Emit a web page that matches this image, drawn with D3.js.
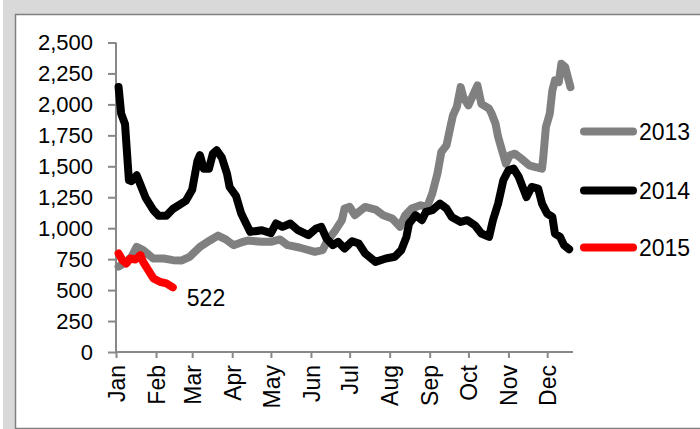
<!DOCTYPE html>
<html>
<head>
<meta charset="utf-8">
<script src="https://cdn.jsdelivr.net/npm/d3@7"></script>
<style>
  html, body { margin: 0; padding: 0; background: #fff; }
  svg { display: block; font-family: "Liberation Sans", Arial, sans-serif; }
</style>
</head>
<body>
<svg id="chart" width="700" height="429"></svg>
<script>
// Weekly-ish readings by day of year (0 = Jan 1)
const days2013 = [2, 7, 12, 16, 21, 29, 37, 44, 51, 57, 65, 73, 79, 85, 91, 97, 102, 113, 120, 127, 133, 142, 154, 160, 164, 170, 175, 177, 181, 185, 193, 201, 207, 214, 220, 224, 229, 236, 241, 245, 249, 252, 256, 259, 261, 264, 267, 269, 273, 277, 280, 283, 289, 291, 294, 296, 299, 302, 305, 309, 314, 320, 325, 330, 331, 333, 336, 338, 340, 343, 345, 348, 350, 352];
const values2013 = [690, 720, 769, 849, 823, 755, 755, 742, 740, 769, 849, 903, 940, 910, 863, 885, 900, 890, 890, 909, 863, 844, 809, 823, 903, 984, 1065, 1159, 1172, 1105, 1172, 1151, 1105, 1078, 1011, 1105, 1159, 1185, 1172, 1280, 1441, 1615, 1669, 1817, 1911, 1980, 2140, 2059, 1992, 2086, 2153, 2005, 1965, 1925, 1844, 1737, 1629, 1522, 1589, 1602, 1562, 1508, 1494, 1481, 1575, 1817, 1925, 2113, 2194, 2180, 2328, 2301, 2220, 2140];

const days2014 = [2, 4, 7, 10, 12, 16, 19, 23, 29, 33, 39, 44, 54, 59, 63, 65, 68, 72, 75, 78, 82, 86, 88, 93, 97, 104, 113, 120, 124, 129, 135, 141, 149, 155, 159, 163, 168, 172, 177, 183, 188, 193, 201, 209, 216, 221, 225, 227, 232, 237, 240, 245, 251, 256, 260, 267, 272, 278, 283, 289, 292, 296, 300, 304, 308, 312, 316, 318, 322, 327, 330, 334, 338, 340, 344, 347, 351];
const values2014 = [2140, 1925, 1840, 1387, 1380, 1427, 1350, 1245, 1145, 1100, 1100, 1155, 1220, 1310, 1540, 1590, 1480, 1480, 1602, 1630, 1570, 1440, 1333, 1260, 1118, 970, 984, 960, 1038, 1011, 1038, 984, 944, 998, 1011, 917, 863, 890, 836, 895, 876, 796, 728, 755, 769, 823, 930, 1038, 1105, 1065, 1131, 1145, 1199, 1159, 1091, 1051, 1065, 1024, 957, 930, 1065, 1199, 1387, 1468, 1481, 1414, 1306, 1252, 1333, 1320, 1199, 1118, 1091, 957, 930, 863, 830];

const days2015 = [2, 5, 8, 11, 15, 19, 21, 25, 29, 34, 39, 44];
const values2015 = [796, 742, 715, 755, 747, 782, 728, 661, 594, 567, 554, 522];

const seriesNames = ["2013", "2014", "2015"];
const seriesColors = ["#808080", "#000000", "#ff0000"];
const monthLabels = ["Jan", "Feb", "Mar", "Apr", "May", "Jun", "Jul", "Aug", "Sep", "Oct", "Nov", "Dec"];
const yTicks = [0, 250, 500, 750, 1000, 1250, 1500, 1750, 2000, 2250, 2500];
const lastLabel = "522";

const svg = d3.select("#chart");
const W = 700, H = 429;

// frame: grey surround with a white bordered panel
svg.append("rect").attr("x", 3).attr("y", 0).attr("width", W - 3).attr("height", H).attr("fill", "#d9d9d9");
svg.append("rect").attr("x", 15.5).attr("y", 14.5).attr("width", W).attr("height", 414)
  .attr("fill", "#fff").attr("stroke", "#7f7f7f").attr("stroke-width", 1.5);

const yearStart = new Date(2014, 0, 1);
const toDate = d => d3.timeDay.offset(yearStart, d);

const x = d3.scaleTime()
  .domain([yearStart, new Date(2014, 11, 21)])
  .range([116, 573]);
const y = d3.scaleLinear().domain([0, 2500]).range([352, 42.5]);

const axisColor = "#888";

// y axis
const yAxis = svg.append("g").attr("transform", "translate(116,0)")
  .call(d3.axisLeft(y).tickValues(yTicks).tickSize(8).tickPadding(15)
    .tickFormat(d3.format(",")));
yAxis.select(".domain").attr("stroke", axisColor).attr("stroke-width", 2).attr("d", `M0,${y(2500)}V${y(0)}`);
yAxis.selectAll(".tick line").attr("stroke", axisColor).attr("stroke-width", 2);
yAxis.selectAll(".tick text").attr("font-size", 22).attr("fill", "#000")
  .attr("font-family", "'Liberation Sans', Arial, sans-serif");

// x axis
const monthStarts = monthLabels.map((m, i) => new Date(2014, i, 1));
const xAxis = svg.append("g").attr("transform", "translate(0,352)")
  .call(d3.axisBottom(x).tickValues(monthStarts).tickSize(6).tickFormat((d, i) => monthLabels[i]));
xAxis.select(".domain").attr("stroke", axisColor).attr("stroke-width", 2).attr("d", `M${x.range()[0]},0H${x.range()[1]}`);
xAxis.selectAll(".tick line").attr("stroke", axisColor).attr("stroke-width", 2);
xAxis.selectAll(".tick text")
  .attr("font-size", 23).attr("fill", "#000")
  .attr("font-family", "'Liberation Sans', Arial, sans-serif")
  .attr("text-anchor", "end")
  .attr("transform", "translate(0,13) rotate(-90)")
  .attr("x", 0).attr("y", 0).attr("dy", "0.36em");

// series lines
const series = [
  { name: seriesNames[0], color: seriesColors[0], days: days2013, values: values2013 },
  { name: seriesNames[1], color: seriesColors[1], days: days2014, values: values2014 },
  { name: seriesNames[2], color: seriesColors[2], days: days2015, values: values2015 }
];

const line = d3.line().x(p => x(toDate(p[0]))).y(p => y(p[1]));

series.forEach(s => {
  const pts = s.days.map((d, i) => [d, s.values[i]]);
  svg.append("path")
    .attr("d", line(pts))
    .attr("fill", "none")
    .attr("stroke", s.color)
    .attr("stroke-width", 8)
    .attr("stroke-linejoin", "round")
    .attr("stroke-linecap", "round");
});

// value label at the end of the current year
const lastDay = days2015[days2015.length - 1];
const lastVal = values2015[values2015.length - 1];
svg.append("text")
  .attr("x", x(toDate(lastDay)) + 14)
  .attr("y", y(lastVal) + 19)
  .attr("font-size", 23)
  .attr("fill", "#000")
  .text(d3.format(",")(lastVal));

// legend
const legendY = [131.5, 190.5, 247.5];
series.forEach((s, i) => {
  const g = svg.append("g").attr("transform", `translate(0,${legendY[i]})`);
  g.append("line").attr("x1", 584).attr("x2", 633).attr("y1", 0).attr("y2", 0)
    .attr("stroke", s.color).attr("stroke-width", 8).attr("stroke-linecap", "round");
  g.append("text").attr("x", 639).attr("y", 0).attr("dy", "0.36em")
    .attr("font-size", 23).attr("fill", "#000").text(s.name);
});
</script>
</body>
</html>
